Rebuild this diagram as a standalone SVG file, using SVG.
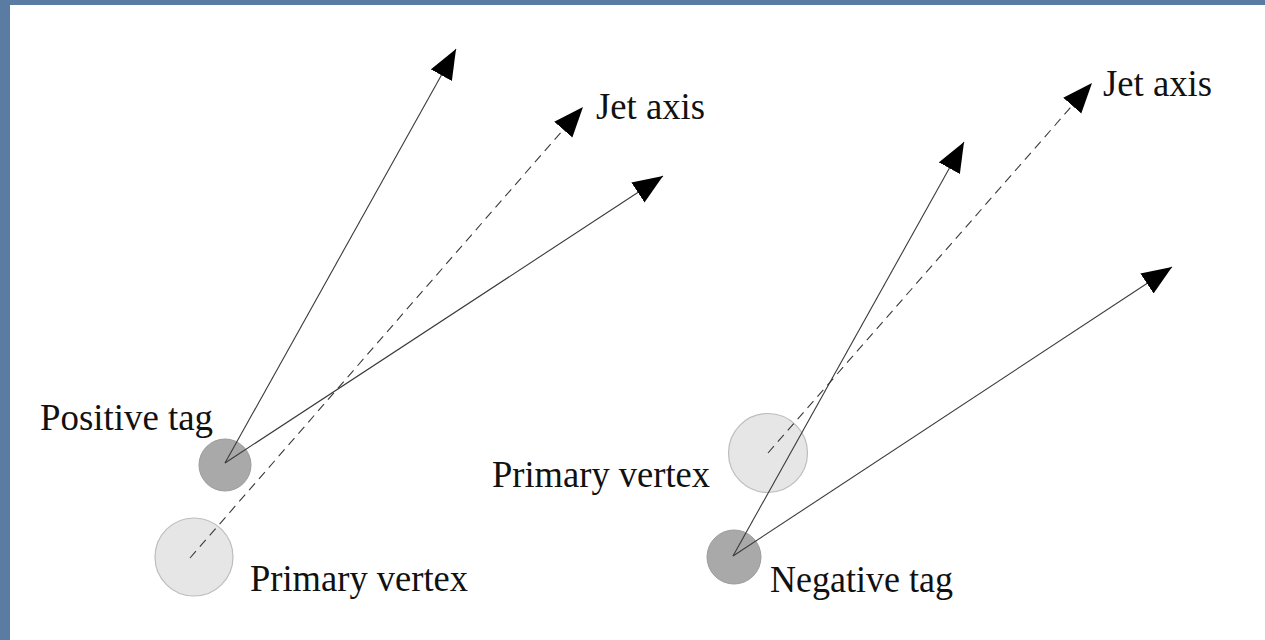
<svg xmlns="http://www.w3.org/2000/svg" width="1265" height="640" viewBox="0 0 1265 640">
  <defs>
    <marker id="head" markerUnits="userSpaceOnUse" markerWidth="32" markerHeight="26" refX="30" refY="12" orient="auto">
      <path d="M0,0 L30,12 L0,24 z" fill="#000"/>
    </marker>
    <style>
      .track { stroke: #3a3a3a; stroke-width: 1.1; fill: none; marker-end: url(#head); }
      .axis { stroke: #3a3a3a; stroke-width: 1.1; fill: none; stroke-dasharray: 9 6; marker-end: url(#head); }
      .tag { fill: #a9a9a9; stroke: #9c9c9c; stroke-width: 1; }
      .pv { fill: #e6e6e6; stroke: #bdbdbd; stroke-width: 1.2; }
      .lbl { font-family: "Liberation Serif", "DejaVu Serif", serif; font-size: 38px; fill: #111; }
    </style>
  </defs>

  <!-- frame -->
  <rect x="0" y="0" width="1265" height="640" fill="#5a7ca3"/>
  <rect x="10" y="5" width="1255" height="635" fill="#ffffff"/>

  <!-- vertices -->
  <g id="left-primary-vertex">
    <circle class="pv" cx="194" cy="557" r="39"/>
  </g>
  <g id="left-positive-tag">
    <circle class="tag" cx="225" cy="465" r="26"/>
  </g>
  <g id="right-primary-vertex">
    <circle class="pv" cx="768" cy="453" r="39.5"/>
  </g>
  <g id="right-negative-tag">
    <circle class="tag" cx="734" cy="557" r="27"/>
  </g>

  <!-- tracks and jet axes -->
  <g id="connectors">
    <line class="axis" x1="190" y1="558" x2="583" y2="107"/>
    <line class="track" x1="225" y1="463" x2="456" y2="49"/>
    <line class="track" x1="225" y1="463" x2="663" y2="176"/>
    <line class="axis" x1="768" y1="453" x2="1092" y2="83"/>
    <line class="track" x1="733" y1="556" x2="964" y2="142"/>
    <line class="track" x1="733" y1="556" x2="1172" y2="267"/>
  </g>

  <!-- labels -->
  <g id="labels">
    <text class="lbl" x="40" y="430" textLength="173" lengthAdjust="spacingAndGlyphs">Positive tag</text>
    <text class="lbl" x="250" y="591" textLength="218" lengthAdjust="spacingAndGlyphs">Primary vertex</text>
    <text class="lbl" x="596" y="119" textLength="109" lengthAdjust="spacingAndGlyphs">Jet axis</text>
    <text class="lbl" x="492" y="487" textLength="218" lengthAdjust="spacingAndGlyphs">Primary vertex</text>
    <text class="lbl" x="770" y="592" textLength="183" lengthAdjust="spacingAndGlyphs">Negative tag</text>
    <text class="lbl" x="1103" y="96" textLength="109" lengthAdjust="spacingAndGlyphs">Jet axis</text>
  </g>
</svg>
